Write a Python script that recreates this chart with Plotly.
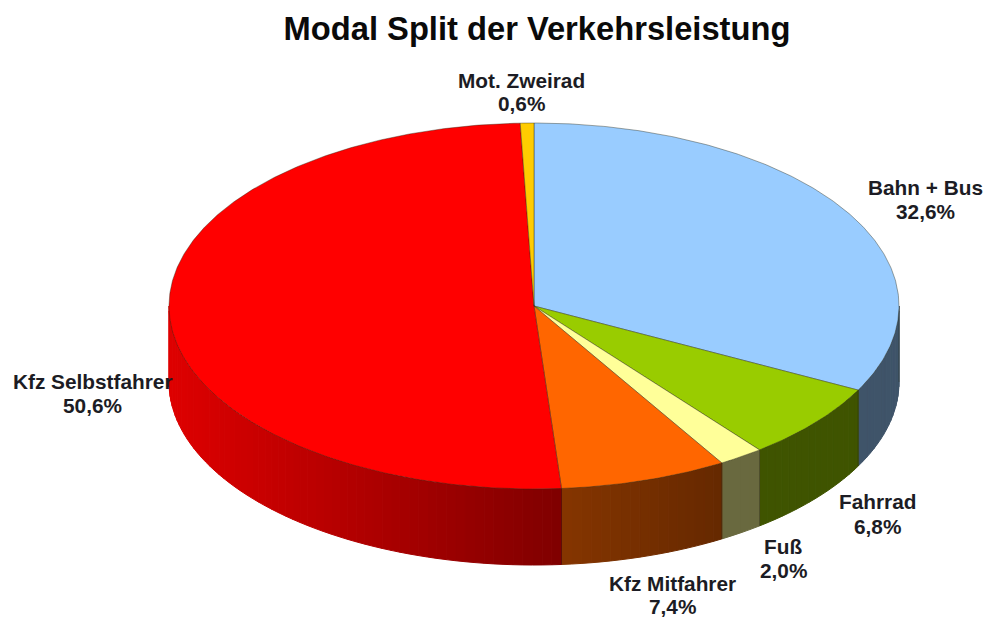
import math
import plotly.graph_objects as go

# --- data ---
categories = ["Bahn + Bus", "Fahrrad", "Fuß", "Kfz Mitfahrer", "Kfz Selbstfahrer", "Mot. Zweirad"]
shares = [32.6, 6.8, 2.0, 7.4, 50.6, 0.6]
share_labels = ["32,6%", "6,8%", "2,0%", "7,4%", "50,6%", "0,6%"]
TITLE = "Modal Split der Verkehrsleistung"

# --- style / layout ---
colors = [(153, 204, 255), (153, 204, 0), (255, 255, 153), (255, 102, 0), (255, 0, 0), (255, 204, 0)]
CX, CY, RX, RY, DEPTH = 534, 306, 365, 183, 76
label_xy = [(925.5, 187, 211), (877, 501, 526), (783, 546, 570), (672, 583.5, 606), (92, 381, 405), (521, 80, 103)]
EDGE = "rgba(40,40,20,0.5)"


def pt(t, dy=0.0):
    r = math.radians(t)
    return CX + RX * math.sin(r), CY - RY * math.cos(r) + dy


def shade(x, idx):
    """Darkening of the side wall, which depends on horizontal position."""
    if idx == 4:  # left red wall
        return 0.87 + (0.5 - 0.87) * (x - 170) / (560 - 170)
    if idx == 3:
        return 0.52 + (0.40 - 0.52) * (x - 563) / (720 - 563)
    return 0.41


def hexc(rgb, f=1.0):
    return "rgb(%d,%d,%d)" % tuple(round(c * f) for c in rgb)


fig = go.Figure()


def poly(xs, ys, fill, line, width):
    fig.add_trace(go.Scatter(x=xs, y=ys, mode="lines", fill="toself", fillcolor=fill,
                             line=dict(color=line, width=width), hoverinfo="skip",
                             showlegend=False))


# slice angle ranges, clockwise from 12 o'clock
edges = [0.0]
for s in shares:
    edges.append(edges[-1] + s * 3.6)

# side walls
for i, rgb in enumerate(colors):
    a, b = max(edges[i], 90.0), min(edges[i + 1], 270.0)
    if a >= b:
        continue
    n = max(2, int((b - a) / 1.5))
    ts = [a + (b - a) * k / n for k in range(n + 1)]
    for t0, t1 in zip(ts[:-1], ts[1:]):
        x0, y0 = pt(t0)
        x1, y1 = pt(t1)
        c = hexc(rgb, shade((x0 + x1) / 2, i))
        poly([x0, x1, x1, x0, x0], [y0, y1, y1 + DEPTH, y0 + DEPTH, y0], c, c, 1)
    # wall separators
    x0, y0 = pt(a)
    fig.add_trace(go.Scatter(x=[x0, x0], y=[y0, y0 + DEPTH], mode="lines",
                             line=dict(color=EDGE, width=0.8), hoverinfo="skip", showlegend=False))

# top faces
for i, rgb in enumerate(colors):
    a, b = edges[i], edges[i + 1]
    n = max(2, int((b - a) / 0.5))
    ts = [a + (b - a) * k / n for k in range(n + 1)]
    pts = [pt(t) for t in ts]
    xs = [CX] + [p[0] for p in pts] + [CX]
    ys = [CY] + [p[1] for p in pts] + [CY]
    poly(xs, ys, hexc(rgb), EDGE, 0.8)

# labels
annotations = []
for name, lab, (x, y1, y2) in zip(categories, share_labels, label_xy):
    for txt, y in ((name, y1), (lab, y2)):
        annotations.append(dict(x=x, y=y, xref="x", yref="y", showarrow=False, align="center",
                                text="<b>%s</b>" % txt,
                                font=dict(family="Liberation Sans", size=20.8, color="#1c1c24")))

W, H = 984, 619
fig.update_layout(
    width=W, height=H, autosize=False,
    margin=dict(l=0, r=0, t=0, b=0),
    paper_bgcolor="white", plot_bgcolor="white",
    showlegend=False,
    title=dict(text="<b>%s</b>" % TITLE, x=537 / W, xanchor="center",
               y=1 - 29 / H, yanchor="middle",
               font=dict(family="Liberation Sans", size=32.7, color="#0a0a0a")),
    xaxis=dict(range=[0, W], visible=False, fixedrange=True),
    yaxis=dict(range=[H, 0], visible=False, fixedrange=True),
    annotations=annotations,
)
fig.write_html("out.html", config=dict(displayModeBar=False),
               post_script="document.body.style.margin='0';document.documentElement.style.overflow='hidden';")
